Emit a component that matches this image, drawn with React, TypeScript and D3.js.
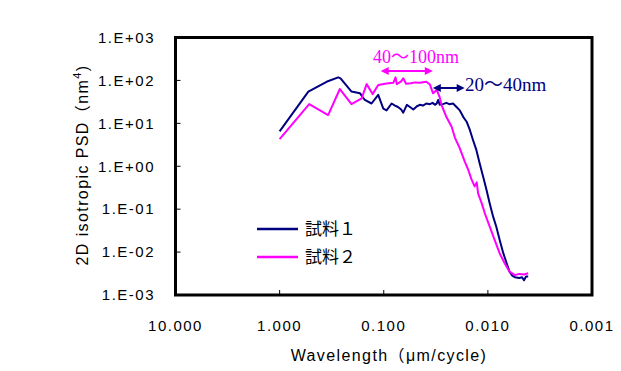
import * as d3 from "d3";

// 試料1 (navy)
const wave1 = [1.0, 0.53, 0.354, 0.274, 0.26, 0.204, 0.169, 0.152, 0.131, 0.113, 0.101, 0.094, 0.084, 0.078, 0.073, 0.068, 0.065, 0.06, 0.056, 0.052, 0.048, 0.045, 0.042, 0.039, 0.036, 0.034, 0.032, 0.031, 0.03, 0.029, 0.027, 0.025, 0.0235, 0.0216, 0.02, 0.0186, 0.0172, 0.016, 0.0149, 0.0139, 0.0129, 0.012, 0.0111, 0.0103, 0.0096, 0.0089, 0.0083, 0.0077, 0.0071, 0.0066, 0.0062, 0.0058, 0.0055, 0.005, 0.0047, 0.0045, 0.0043, 0.0041];
const psd1 = [6.5, 55, 93, 118, 112, 55, 50, 35, 29, 46, 22, 20, 29, 26, 24, 21, 17.7, 27, 24, 21, 25, 27, 26, 29, 28, 30, 27, 29, 35, 27, 28, 30, 28, 29, 24, 20, 14, 10.9, 7, 4.1, 2.4, 1.17, 0.57, 0.28, 0.136, 0.067, 0.039, 0.019, 0.0093, 0.0055, 0.0035, 0.0028, 0.0026, 0.0025, 0.0026, 0.0022, 0.0027, 0.0027];

// 試料2 (magenta)
const wave2 = [1.0, 0.52, 0.342, 0.264, 0.204, 0.163, 0.146, 0.128, 0.113, 0.094, 0.081, 0.077, 0.075, 0.068, 0.065, 0.061, 0.055, 0.05, 0.045, 0.039, 0.036, 0.0336, 0.031, 0.029, 0.0279, 0.025, 0.0223, 0.0207, 0.0186, 0.0167, 0.0155, 0.0144, 0.0134, 0.0128, 0.0124, 0.0115, 0.0107, 0.0096, 0.0086, 0.0077, 0.0069, 0.0062, 0.0055, 0.005, 0.0045, 0.0041];
const psd2 = [4.3, 28, 15.6, 63, 28, 38, 82, 48, 78, 85, 88, 118, 82, 95, 112, 84, 86, 90, 88, 93, 80, 50, 60, 40, 27, 14, 8.3, 4.6, 2.6, 1.3, 0.85, 0.5, 0.34, 0.42, 0.23, 0.14, 0.08, 0.039, 0.019, 0.0093, 0.0055, 0.0035, 0.0029, 0.0031, 0.003, 0.0032];

const xTicks = [10, 1, 0.1, 0.01, 0.001];
const yTicks = [1e3, 1e2, 1e1, 1e0, 1e-1, 1e-2, 1e-3];
const yTickLabels = ["1.E+03", "1.E+02", "1.E+01", "1.E+00", "1.E-01", "1.E-02", "1.E-03"];
const seriesNames = ["試料１", "試料２"];
const seriesColors = ["#000080", "#ff00ff"];

const W = 621;
const H = 371;
const plot = { left: 175.5, right: 592, top: 37.5, bottom: 295 };

const sans = "'Liberation Sans', 'Noto Sans CJK JP', sans-serif";
const serif = "'Liberation Serif', 'DejaVu Serif', 'Noto Sans CJK JP', serif";

export default function App() {
  const x = d3.scaleLog().domain([10, 0.001]).range([plot.left, plot.right]);
  const y = d3.scaleLog().domain([1e-3, 1e3]).range([plot.bottom, plot.top]);

  const line = d3
    .line<[number, number]>()
    .x((d) => x(d[0]))
    .y((d) => y(d[1]));

  const s1 = wave1.map((w, i) => [w, psd1[i]] as [number, number]);
  const s2 = wave2.map((w, i) => [w, psd2[i]] as [number, number]);

  // 矢印 (annotation)
  const arrow = (x1: number, x2: number, yy: number, color: string) => {
    const h = 6;
    const hw = 4;
    return (
      <g>
        <line x1={x1 + h} x2={x2 - h} y1={yy} y2={yy} stroke={color} strokeWidth={2} />
        <path d={`M${x1},${yy} L${x1 + h + 2},${yy - hw} L${x1 + h + 2},${yy + hw} Z`} fill={color} />
        <path d={`M${x2},${yy} L${x2 - h - 2},${yy - hw} L${x2 - h - 2},${yy + hw} Z`} fill={color} />
      </g>
    );
  };

  return (
    <svg
      width={W}
      height={H}
      style={{ position: "absolute", left: 0, top: 0, background: "#fff" }}
    >
      <rect x={0} y={0} width={W} height={H} fill="#fff" />

      {/* series */}
      <path d={line(s1) ?? ""} fill="none" stroke={seriesColors[0]} strokeWidth={2} strokeLinejoin="round" />
      <path d={line(s2) ?? ""} fill="none" stroke={seriesColors[1]} strokeWidth={2} strokeLinejoin="round" />

      {/* frame */}
      <rect
        x={plot.left}
        y={plot.top}
        width={plot.right - plot.left}
        height={plot.bottom - plot.top}
        fill="none"
        stroke="#000"
        strokeWidth={3}
      />

      {/* y axis */}
      {yTicks.map((t, i) => (
        <g key={"y" + i}>
          {i > 0 && i < yTicks.length - 1 && (
            <line x1={plot.left} x2={plot.left + 5} y1={y(t)} y2={y(t)} stroke="#000" strokeWidth={1} />
          )}
          <text
            x={155}
            y={y(t)}
            dy="0.35em"
            textAnchor="end"
            fontFamily={sans}
            fontSize={15}
            letterSpacing={1.5}
            fill="#000"
          >
            {yTickLabels[i]}
          </text>
        </g>
      ))}

      {/* x axis */}
      {xTicks.map((t, i) => (
        <g key={"x" + i}>
          {i > 0 && i < xTicks.length - 1 && (
            <line x1={x(t)} x2={x(t)} y1={plot.bottom} y2={plot.bottom - 5} stroke="#000" strokeWidth={1} />
          )}
          <text
            x={x(t)}
            y={331}
            textAnchor="middle"
            fontFamily={sans}
            fontSize={15}
            letterSpacing={1.5}
            fill="#000"
          >
            {d3.format(".3f")(t)}
          </text>
        </g>
      ))}

      <text x={389} y={361} textAnchor="middle" fontFamily={sans} fontSize={16} letterSpacing={1.4} fill="#000">
        Wavelength（μm/cycle)
      </text>

      <text
        transform={`translate(82,165) rotate(-90)`}
        textAnchor="middle"
        dy="0.35em"
        fontFamily={sans}
        fontSize={16}
        letterSpacing={1.4}
        fill="#000"
      >
        2D isotropic PSD（nm
        <tspan dy="-7" fontSize={11}>4</tspan>
        <tspan dy="7">)</tspan>
      </text>

      {/* legend */}
      {seriesNames.map((n, i) => (
        <g key={"lg" + i}>
          <line
            x1={257}
            x2={298}
            y1={229 + i * 28}
            y2={229 + i * 28}
            stroke={seriesColors[i]}
            strokeWidth={2.5}
          />
          <text
            x={305}
            y={229 + i * 28}
            dy="0.36em"
            fontFamily="'Noto Sans CJK JP', sans-serif"
            fontSize={17}
            fill="#000"
          >
            {n}
          </text>
        </g>
      ))}

      {/* annotations */}
      {arrow(x(0.107), x(0.0338), y(166), seriesColors[1])}
      <text x={416} y={63} textAnchor="middle" fontFamily={serif} fontSize={18} fill={seriesColors[1]}>
        40～100nm
      </text>
      {arrow(x(0.0338), x(0.0167), y(66.5), seriesColors[0])}
      <text x={465} y={91} fontFamily={serif} fontSize={19} fill={seriesColors[0]}>
        20～40nm
      </text>
    </svg>
  );
}
